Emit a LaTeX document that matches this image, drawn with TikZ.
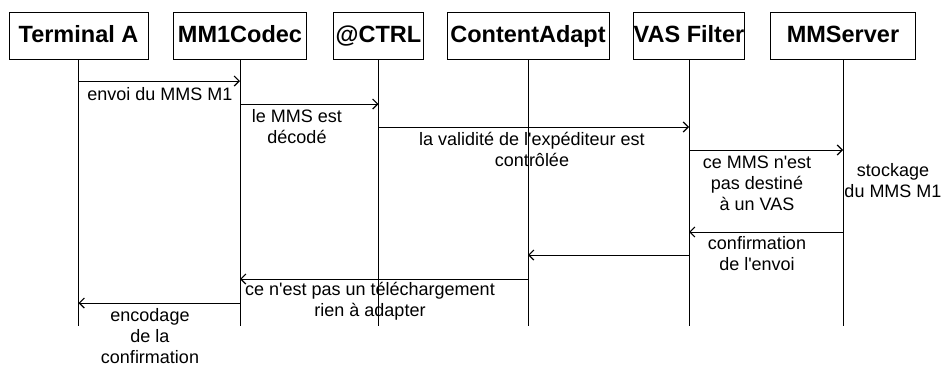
\documentclass[tikz,border=0pt]{standalone}
\usepackage{fontspec}
\setmainfont{Liberation Sans}[Ligatures=TeXOff]
\usetikzlibrary{arrows.meta}
\begin{document}
\begin{tikzpicture}[x=1pt,y=-1pt,
  actor/.style={draw, line width=1pt, minimum height=47pt, inner sep=0pt,
                text height=19pt, text depth=5pt,
                font=\fontsize{23.5}{27}\selectfont\bfseries},
  life/.style={line width=1pt},
  msg/.style={line width=1pt, -{Straight Barb[length=5pt,width=10pt,line width=1.2pt]}},
  lbl/.style={align=center, inner sep=0pt, anchor=base,
              font=\fontsize{18}{21}\selectfont}]
\useasboundingbox (0,0) rectangle (948,365);

% participants
\node[actor, minimum width=139pt] (ta) at (78.5,35.5) {Terminal A};
\node[actor, minimum width=133pt] (mc) at (240,35.5) {MM1Codec};
\node[actor, minimum width=90pt]  (ct) at (378.5,35.5) {@CTRL};
\node[actor, minimum width=162pt] (ca) at (528,35.5) {ContentAdapt};
\node[actor, minimum width=111pt] (vf) at (689,35.5) {VAS Filter};
\node[actor, minimum width=145pt] (ms) at (843,35.5) {MMServer};

% lifelines
\coordinate (bot) at (0,326);
\foreach \p in {ta,mc,ct,ca,vf,ms}
  \draw[life] (\p.south) -- (\p.south |- bot);

% message rows
\coordinate (m1) at (0,81);
\coordinate (m2) at (0,104);
\coordinate (m3) at (0,127);
\coordinate (m4) at (0,150);
\coordinate (m5) at (0,232);
\coordinate (m6) at (0,255);
\coordinate (m7) at (0,279);
\coordinate (m8) at (0,303);

% messages
\draw[msg] (ta |- m1) -- (mc |- m1);
\draw[msg] (mc |- m2) -- (ct |- m2);
\draw[msg] (ct |- m3) -- (vf |- m3);
\draw[msg] (vf |- m4) -- (ms |- m4);
\draw[msg] (ms |- m5) -- (vf |- m5);
\draw[msg] (vf |- m6) -- (ca |- m6);
\draw[msg] (ca |- m7) -- (mc |- m7);
\draw[msg] (mc |- m8) -- (ta |- m8);

% message labels (anchored at the baseline of their last line)
\node[lbl] (l1) at (160,100) {envoi du MMS M1};
\node[lbl] (l2) at (297,143) {le MMS est\\décodé};
\node[lbl] (l3) at (532,166) {la validité de l'expéditeur est\\contrôlée};
\node[lbl] (l4) at (757,210) {ce MMS n'est\\pas destiné\\à un VAS};
\node[lbl] (l5) at (893,197) {stockage\\du MMS M1};
\node[lbl] (l6) at (757,270) {confirmation\\de l'envoi};
\node[lbl] (l7) at (370,316) {ce n'est pas un téléchargement\\rien à adapter};
\node[lbl] (l8) at (150,363) {encodage\\de la\\confirmation};
\end{tikzpicture}
\end{document}
